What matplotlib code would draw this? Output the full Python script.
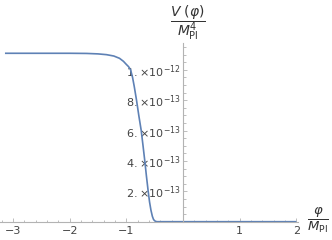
import matplotlib
matplotlib.use('Agg')
import matplotlib.pyplot as plt
from matplotlib.ticker import FixedLocator, MultipleLocator

plt.rcParams['mathtext.fontset'] = 'dejavusans'

# field value phi / M_Pl and potential V / M_Pl^4 (units of 1e-12)
phi = [-3.14, -2.5, -2.0, -1.7, -1.5, -1.35, -1.22, -1.12, -1.05, -1.0, -0.96, -0.925,
       -0.89, -0.86, -0.82, -0.78, -0.737, -0.705, -0.674, -0.645, -0.614, -0.59,
       -0.565, -0.54, -0.52, -0.50, -0.48, -0.46, -0.4, 0.0, 1.0, 2.0]
pot = [1.108, 1.108, 1.108, 1.107, 1.104, 1.099, 1.09, 1.075, 1.055, 1.035, 1.02, 1.0,
       0.95, 0.89, 0.80, 0.70, 0.60, 0.50, 0.40, 0.30, 0.20, 0.13,
       0.075, 0.035, 0.015, 0.006, 0.002, 0.0, 0.0, 0.0, 0.0, 0.0]

xticks = [-3, -2, -1, 1, 2]
yticks = [2e-13, 4e-13, 6e-13, 8e-13, 1e-12]
ylabels = [r'$2.\!\times\!10^{-13}$', r'$4.\!\times\!10^{-13}$', r'$6.\!\times\!10^{-13}$',
           r'$8.\!\times\!10^{-13}$', r'$1.\!\times\!10^{-12}$']

W, H = 332, 240
fig = plt.figure(figsize=(W / 100, H / 100), dpi=100)
ax = fig.add_axes([0, (H - 221.7) / H, 298 / W, (221.7 - 43) / H])

ax.plot(phi, [v * 1e-12 for v in pot], color='#5E81B5', lw=1.2, solid_capstyle='butt')

ax.set_xlim(-183 / 56.7, (298 - 183) / 56.7)
ax.set_ylim(0, (221.7 - 43) / 152.0 * 1e-12)

for side in ['top', 'right']:
    ax.spines[side].set_visible(False)
ax.spines['left'].set_position(('data', 0))
for side in ['left', 'bottom']:
    ax.spines[side].set_color('#b3b3b3')
    ax.spines[side].set_linewidth(0.8)

ax.xaxis.set_major_locator(FixedLocator(xticks))
ax.xaxis.set_minor_locator(MultipleLocator(0.2))
ax.yaxis.set_major_locator(FixedLocator(yticks))
ax.yaxis.set_minor_locator(MultipleLocator(5e-14))
ax.set_xticklabels(['\u22123', '\u22122', '\u22121', '1', '2'])
ax.set_yticklabels(ylabels)

ax.tick_params(which='both', direction='in', color='#b3b3b3', width=0.6,
               labelcolor='#444444', labelsize=8)
ax.tick_params(which='major', length=3.0)
ax.tick_params(which='minor', length=1.8)
ax.tick_params(axis='x', pad=3)
ax.tick_params(axis='y', pad=1.5)

fig.text(188 / W, 1 - 23 / H, r'$\dfrac{V\ (\varphi)}{M_{\mathrm{Pl}}^4}$',
         ha='center', va='center', color='#333333', fontsize=10)
fig.text(318 / W, 1 - 220 / H, r'$\dfrac{\varphi}{M_{\mathrm{Pl}}}$',
         ha='center', va='center', color='#333333', fontsize=9.5)

fig.savefig('out.png', dpi=100)
